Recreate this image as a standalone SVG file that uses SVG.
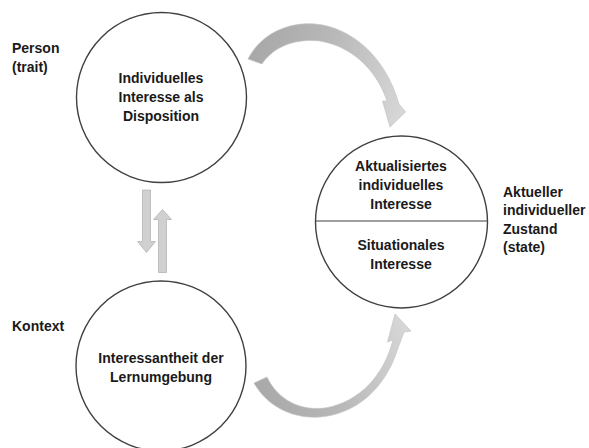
<svg xmlns="http://www.w3.org/2000/svg" width="589" height="448" viewBox="0 0 589 448">
<style>
.c{fill:#fff;stroke:#404040;stroke-width:1.4}
.t{font-family:"Liberation Sans",Arial,sans-serif;font-weight:bold;font-size:14px;fill:#1a1a1a}
.m{text-anchor:middle}
.sa{fill:#d0d0d0;stroke:#b5b5b5;stroke-width:0.8}
</style>
<defs>
<linearGradient id="g1" gradientUnits="userSpaceOnUse" x1="250" y1="60" x2="400" y2="110">
<stop offset="0" stop-color="#a8a8a8"/><stop offset="0.45" stop-color="#b8b8b8"/><stop offset="1" stop-color="#d6d6d6"/>
</linearGradient>
<linearGradient id="g2" gradientUnits="userSpaceOnUse" x1="255" y1="390" x2="405" y2="330">
<stop offset="0" stop-color="#a8a8a8"/><stop offset="0.45" stop-color="#b8b8b8"/><stop offset="1" stop-color="#d6d6d6"/>
</linearGradient>
</defs>
<rect width="589" height="448" fill="#fff"/>
<g id="connectors">
<path d="M248,59 C262,32 290,22 315,24 C350,27 385,55 399,104 L405.5,112 L390,127 L382.5,101 L387,101 C376,68 350,46 320,41 C295,38 273,47 262,64 Z" fill="url(#g1)" stroke="#c4c4c4" stroke-width="0.7"/>
<path d="M254,383 C268,408 295,419 320,417 C355,414 385,390 398,348 L404,332 L411,331 L395,314 L387.5,342 L393,340 C384,375 360,402 325,408 C300,411 278,400 267,377 Z" fill="url(#g2)" stroke="#c4c4c4" stroke-width="0.7"/>
<path class="sa" d="M142.5,190 L150.5,190 L150.5,241.5 L155.5,241.5 L146.5,252.5 L137.5,241.5 L142.5,241.5 Z"/>
<path class="sa" d="M158.5,272.5 L166.5,272.5 L166.5,219.5 L171.5,219.5 L162.5,209.5 L153.5,219.5 L158.5,219.5 Z"/>
</g>
<g id="node-person">
<circle class="c" cx="161.5" cy="97.5" r="85"/>
<text class="t m" x="161" y="83">Individuelles</text>
<text class="t m" x="161" y="102">Interesse als</text>
<text class="t m" x="161" y="121">Disposition</text>
</g>
<g id="node-kontext">
<circle class="c" cx="161" cy="366" r="85"/>
<text class="t m" x="161" y="363">Interessantheit der</text>
<text class="t m" x="161" y="382">Lernumgebung</text>
</g>
<g id="node-state">
<circle class="c" cx="401.5" cy="222" r="86"/>
<line x1="315.5" y1="221" x2="487.5" y2="221" stroke="#404040" stroke-width="1.2"/>
<text class="t m" x="401" y="171">Aktualisiertes</text>
<text class="t m" x="401" y="190">individuelles</text>
<text class="t m" x="401" y="209">Interesse</text>
<text class="t m" x="401" y="250">Situationales</text>
<text class="t m" x="401" y="269">Interesse</text>
</g>
<g id="labels">
<text class="t" x="12" y="53">Person</text>
<text class="t" x="12" y="72">(trait)</text>
<text class="t" x="12" y="331">Kontext</text>
<text class="t" x="503" y="197">Aktueller</text>
<text class="t" x="503" y="215">individueller</text>
<text class="t" x="503" y="234">Zustand</text>
<text class="t" x="503" y="252">(state)</text>
</g>
</svg>
